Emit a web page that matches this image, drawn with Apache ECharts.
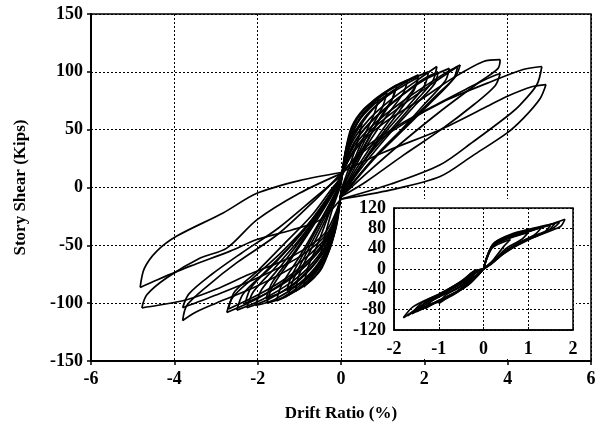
<!DOCTYPE html>
<html>
<head>
<meta charset="utf-8">
<script src="https://cdn.jsdelivr.net/npm/echarts@6/dist/echarts.min.js"></script>
<style>
html, body { margin: 0; padding: 0; background: #fff; }
#chart { width: 602px; height: 430px; }
</style>
</head>
<body>
<div id="chart"></div>
<script>
// 每个循环 4 段: [正向加载, 正向卸载, 负向加载, 负向卸载]  x: 层间位移角 %, y: kips
const c05 = [
    [[0, 2], [0.08, 25], [0.2, 42], [0.5, 55]],
    [[0.5, 55], [0.4, 40], [0.2, 18], [0, -2]],
    [[0, -2], [-0.08, -28], [-0.22, -46], [-0.5, -60]],
    [[-0.5, -60], [-0.4, -44], [-0.2, -18], [0, 2]]
];
const c09 = [
    [[0, 4], [0.1, 30], [0.25, 52], [0.55, 68], [0.9, 77]],
    [[0.9, 77], [0.8, 64], [0.55, 44], [0.25, 18], [0, -5]],
    [[0, -5], [-0.12, -32], [-0.26, -52], [-0.5, -72], [-0.9, -86]],
    [[-0.9, -86], [-0.8, -70], [-0.55, -48], [-0.3, -24], [0, 4]]
];
const c11 = [
    [[0, 5], [0.12, 32], [0.3, 54], [0.65, 71], [1.1, 82]],
    [[1.1, 82], [1.0, 70], [0.7, 50], [0.35, 24], [0.05, 0], [0, -5]],
    [[0, -5], [-0.12, -34], [-0.3, -56], [-0.65, -78], [-1.1, -90]],
    [[-1.1, -90], [-1.0, -75], [-0.7, -52], [-0.35, -26], [0, 5]]
];
const c13a = [
    [[0, 6], [0.15, 38], [0.4, 60], [0.8, 76], [1.34, 88.7]],
    [[1.34, 88.7], [1.25, 78], [0.9, 58], [0.5, 32], [0.15, 8], [0, -6]],
    [[0, -6], [-0.15, -38], [-0.4, -62], [-0.8, -82], [-1.26, -93]],
    [[-1.26, -93], [-1.15, -80], [-0.85, -58], [-0.45, -30], [-0.1, -4], [0, 6]]
];
const c13b = [
    [[0, 5], [0.15, 34], [0.4, 56], [0.8, 72], [1.3, 85]],
    [[1.3, 85], [1.2, 74], [0.85, 54], [0.45, 28], [0.1, 5], [0, -5]],
    [[0, -5], [-0.15, -35], [-0.4, -58], [-0.8, -78], [-1.3, -89]],
    [[-1.3, -89], [-1.18, -76], [-0.85, -54], [-0.45, -27], [0, 5]]
];
const c16 = [
    [[0, 6], [0.18, 38], [0.45, 60], [0.9, 78], [1.3, 88], [1.6, 93]],
    [[1.6, 93], [1.5, 82], [1.1, 62], [0.6, 35], [0.2, 8], [0, -6]],
    [[0, -6], [-0.18, -40], [-0.45, -64], [-0.9, -84], [-1.3, -94], [-1.55, -98]],
    [[-1.55, -98], [-1.42, -84], [-1.0, -60], [-0.55, -32], [-0.15, -6], [0, 6]]
];
const c18a = [
    [[0, 7], [0.2, 40], [0.5, 62], [1.0, 80], [1.5, 91], [1.86, 97.4]],
    [[1.86, 97.4], [1.78, 87], [1.4, 70], [0.9, 45], [0.4, 18], [0, -6]],
    [[0, -6], [-0.2, -42], [-0.5, -66], [-1.0, -85], [-1.4, -95], [-1.78, -100]],
    [[-1.78, -100], [-1.65, -86], [-1.2, -62], [-0.7, -35], [-0.3, -12], [0, 7]]
];
const c18b = [
    [[0, 5], [0.2, 36], [0.55, 58], [1.0, 76], [1.5, 88], [1.85, 95]],
    [[1.85, 95], [1.75, 84], [1.4, 66], [0.9, 42], [0.4, 15], [0, -5]],
    [[0, -5], [-0.2, -38], [-0.5, -60], [-1.0, -80], [-1.4, -90], [-1.8, -96]],
    [[-1.8, -96], [-1.65, -82], [-1.2, -60], [-0.7, -33], [-0.3, -10], [0, 5]]
];
const c21 = [
    [[0, 8], [0.22, 40], [0.6, 62], [1.1, 79], [1.6, 92], [2.1, 100]],
    [[2.1, 100], [2.0, 88], [1.6, 70], [1.0, 45], [0.5, 20], [0.1, -2], [0, -6]],
    [[0, -6], [-0.2, -42], [-0.55, -66], [-1.0, -83], [-1.6, -97], [-2.05, -102]],
    [[-2.05, -102], [-1.9, -88], [-1.4, -66], [-0.9, -42], [-0.4, -16], [0, 8]]
];
const c23a = [
    [[0, 8], [0.25, 38], [0.7, 60], [1.2, 76], [1.8, 92], [2.3, 104.6]],
    [[2.3, 104.6], [2.2, 92], [1.8, 75], [1.2, 50], [0.6, 25], [0.15, 0], [0, -6]],
    [[0, -6], [-0.2, -40], [-0.6, -64], [-1.1, -82], [-1.7, -96], [-2.26, -104]],
    [[-2.26, -104], [-2.1, -90], [-1.6, -70], [-1.0, -45], [-0.5, -20], [-0.1, 2], [0, 8]]
];
const c23b = [
    [[0, 6], [0.25, 34], [0.7, 56], [1.3, 75], [1.9, 92], [2.33, 100]],
    [[2.33, 100], [2.25, 90], [1.8, 72], [1.2, 48], [0.6, 22], [0.1, -2], [0, -6]],
    [[0, -6], [-0.2, -36], [-0.6, -58], [-1.1, -76], [-1.7, -90], [-2.3, -100]],
    [[-2.3, -100], [-2.15, -86], [-1.6, -66], [-1.0, -42], [-0.5, -18], [0, 6]]
];
const c26 = [
    [[0, 9], [0.3, 38], [0.8, 60], [1.4, 78], [2.0, 93], [2.6, 103]],
    [[2.6, 103], [2.5, 92], [2.0, 72], [1.4, 48], [0.7, 22], [0.2, 0], [0, -7]],
    [[0, -7], [-0.25, -42], [-0.7, -66], [-1.2, -82], [-1.9, -97], [-2.5, -106]],
    [[-2.5, -106], [-2.35, -92], [-1.85, -74], [-1.2, -50], [-0.6, -24], [-0.15, 0], [0, 9]]
];
const c28a = [
    [[0, 10], [0.3, 35], [0.8, 55], [1.5, 75], [2.2, 92], [2.6, 101], [2.86, 106]],
    [[2.86, 106], [2.75, 96], [2.3, 80], [1.6, 55], [0.9, 30], [0.3, 5], [0, -8]],
    [[0, -8], [-0.25, -40], [-0.7, -62], [-1.3, -80], [-2.0, -96], [-2.74, -108]],
    [[-2.74, -108], [-2.6, -95], [-2.1, -78], [-1.4, -55], [-0.7, -28], [-0.2, -2], [0, 10]]
];
const c28b = [
    [[0, 8], [0.3, 32], [0.8, 52], [1.5, 72], [2.2, 90], [2.8, 104.6]],
    [[2.8, 104.6], [2.7, 94], [2.2, 75], [1.5, 50], [0.8, 25], [0.2, 0], [0, -7]],
    [[0, -7], [-0.25, -38], [-0.7, -60], [-1.3, -78], [-2.0, -93], [-2.7, -105]],
    [[-2.7, -105], [-2.55, -90], [-2.0, -72], [-1.4, -50], [-0.7, -24], [-0.2, 0], [0, 8]]
];
const c38a = [
    [[0, 12], [0.4, 35], [1.0, 55], [2.0, 78], [2.7, 95], [3.42, 109], [3.82, 110.6]],
    [[3.82, 110.6], [3.77, 103], [3.34, 91.6], [2.38, 65.7], [1.5, 40], [0.7, 15], [0, -8]],
    [[0, -8], [-0.3, -40], [-1.0, -65], [-2.0, -85], [-3.0, -100], [-3.5, -108], [-3.8, -115]],
    [[-3.8, -115], [-3.7, -102], [-3.2, -85], [-2.5, -65], [-1.5, -40], [-0.6, -10], [0, 12]]
];
const c38b = [
    [[0, 10], [0.5, 32], [1.3, 52], [2.2, 70], [3.0, 85], [3.5, 94], [3.82, 98.5]],
    [[3.82, 98.5], [3.7, 88], [3.2, 72], [2.4, 50], [1.5, 28], [0.6, 5], [0, -8]],
    [[0, -8], [-0.3, -38], [-1.0, -60], [-2.0, -78], [-3.0, -93], [-3.8, -104]],
    [[-3.8, -104], [-3.65, -92], [-3.1, -75], [-2.4, -57], [-1.5, -35], [-0.6, -8], [0, 10]]
];
const c48a = [
    [[0, 12], [0.5, 30], [1.5, 55], [2.5, 75], [3.5, 90], [4.37, 102], [4.82, 104.6]],
    [[4.82, 104.6], [4.7, 88.8], [4.3, 71.5], [3.98, 61.4], [3.18, 39.8], [2.38, 19.6], [1.2, 3], [0, -10]],
    [[0, -10], [-0.4, -40], [-1.2, -60], [-2.2, -75], [-3.0, -88], [-3.7, -97], [-4.42, -102], [-4.78, -104]],
    [[-4.78, -104], [-4.66, -92.7], [-4.18, -78], [-3.38, -61], [-2.74, -52.4], [-2.02, -28], [-1.0, -5], [0, 12]]
];
const c48b = [
    [[0, 13], [1.0, 30], [2.38, 50], [3.42, 68.5], [3.98, 78.7], [4.6, 87.3], [4.92, 89]],
    [[4.92, 89], [4.78, 77], [4.38, 60], [3.98, 47], [3.18, 28], [2.38, 9.5], [1.2, -2], [0, -10]],
    [[0, -10], [-0.5, -28], [-1.2, -37], [-2.02, -45], [-2.66, -55], [-3.62, -68], [-4.42, -80], [-4.82, -86.4]],
    [[-4.82, -86.4], [-4.72, -70], [-4.42, -55], [-3.94, -42], [-2.83, -22], [-2.02, -5], [-1.0, 6], [0, 13]]
];
const mainLoops = [c05, c09, c11, c13a, c13b, c16, c18a, c18b, c21, c23a, c23b, c26, c28a, c28b, c38a, c38b, c48a, c48b];

// 小图 (inset)
const i06 = [
    [[0, 0], [0.07, 20], [0.2, 42], [0.6, 58]],
    [[0.6, 58], [0.45, 44], [0.2, 16], [0, 0]],
    [[0, 0], [-0.15, -14], [-0.35, -30], [-0.6, -45]],
    [[-0.6, -45], [-0.45, -34], [-0.2, -10], [0, 0]]
];
const i10 = [
    [[0, 0], [0.07, 22], [0.2, 44], [0.5, 58], [1.0, 72]],
    [[1.0, 72], [0.85, 58], [0.5, 40], [0.2, 14], [0, 0]],
    [[0, 0], [-0.12, -12], [-0.35, -32], [-0.7, -50], [-1.0, -68]],
    [[-1.0, -68], [-0.85, -52], [-0.5, -34], [-0.2, -8], [0, 0]]
];
const i13 = [
    [[0, 0], [0.08, 24], [0.2, 46], [0.5, 60], [0.9, 70], [1.3, 82]],
    [[1.3, 82], [1.15, 68], [0.8, 52], [0.45, 32], [0.15, 10], [0, 0]],
    [[0, 0], [-0.12, -12], [-0.3, -28], [-0.6, -46], [-1.0, -62], [-1.3, -78]],
    [[-1.3, -78], [-1.15, -62], [-0.8, -44], [-0.45, -26], [-0.15, -4], [0, 0]]
];
const i15 = [
    [[0, 0], [0.1, 26], [0.25, 50], [0.55, 64], [1.0, 75], [1.5, 86]],
    [[1.5, 86], [1.35, 72], [0.9, 54], [0.45, 30], [0.15, 8], [0, 0]],
    [[0, 0], [-0.15, -12], [-0.35, -30], [-0.7, -52], [-1.1, -68], [-1.5, -84]],
    [[-1.5, -84], [-1.3, -66], [-0.9, -46], [-0.5, -24], [-0.2, -4], [0, 0]]
];
const i16 = [
    [[0, 0], [0.08, 24], [0.22, 48], [0.5, 62], [1.0, 74], [1.6, 90]],
    [[1.6, 90], [1.45, 76], [1.0, 57], [0.5, 34], [0.2, 12], [0, 0]],
    [[0, 0], [-0.1, -10], [-0.3, -25], [-0.55, -42], [-1.0, -62], [-1.6, -88]],
    [[-1.6, -88], [-1.4, -68], [-1.0, -50], [-0.5, -26], [-0.2, -4], [0, 0]]
];
const i17 = [
    [[0, 0], [0.1, 28], [0.25, 52], [0.6, 68], [1.1, 80], [1.7, 92]],
    [[1.7, 92], [1.55, 80], [1.1, 64], [0.6, 42], [0.25, 18], [0, 0]],
    [[0, 0], [-0.12, -10], [-0.3, -20], [-0.6, -38], [-1.1, -60], [-1.7, -92]],
    [[-1.7, -92], [-1.5, -78], [-1.0, -52], [-0.5, -28], [-0.25, -8], [0, 0]]
];
const i18 = [
    [[0, 0], [0.08, 25], [0.22, 50], [0.52, 64], [1.04, 77], [1.5, 88], [1.82, 97.8]],
    [[1.82, 97.8], [1.71, 83], [1.04, 60], [0.52, 37], [0.22, 14], [0, 0]],
    [[0, 0], [-0.1, -8], [-0.3, -22], [-0.52, -41], [-0.97, -61], [-1.57, -84], [-1.79, -96]],
    [[-1.79, -96], [-1.57, -74], [-0.97, -48], [-0.45, -22], [-0.23, -5], [0, 0]]
];
const insetLoops = [i06, i10, i13, i15, i16, i17, i18];

const serif = 'Liberation Serif';
const labelStyle = { color: '#000', fontFamily: serif, fontWeight: 'bold', fontSize: 18 };
const dotted = { show: true, lineStyle: { color: '#000', width: 1, type: [2, 2] } };

function buildSeries(loops, idx, z) {
    const list = [];
    loops.forEach(loop => {
        loop.forEach(branch => {
            list.push({
                type: 'line',
                xAxisIndex: idx,
                yAxisIndex: idx,
                data: branch,
                smooth: 0.3,
                symbol: 'none',
                silent: true,
                z: z,
                lineStyle: { color: '#000', width: 1.7 }
            });
        });
    });
    return list;
}

const chart = echarts.init(document.getElementById('chart'));
chart.setOption({
    animation: false,
    backgroundColor: '#fff',
    grid: [
        { left: 91, top: 14, width: 500, height: 347, show: true, borderColor: '#000', borderWidth: 1.5 },
        { left: 394, top: 208, width: 179, height: 122, show: true, backgroundColor: '#fff', borderColor: '#000', borderWidth: 1.5, z: 3 }
    ],
    xAxis: [
        {
            type: 'value', gridIndex: 0, min: -6, max: 6, interval: 2,
            axisLine: { onZero: false, lineStyle: { color: '#000', width: 2 } },
            axisTick: { show: true, length: 4, lineStyle: { color: '#000', width: 1.5 } },
            axisLabel: { ...labelStyle, margin: 9 },
            splitLine: dotted,
            name: 'Drift Ratio (%)', nameLocation: 'middle', nameGap: 44,
            nameTextStyle: { color: '#000', fontFamily: serif, fontWeight: 'bold', fontSize: 17 }
        },
        {
            type: 'value', gridIndex: 1, min: -2, max: 2, interval: 1, z: 3,
            axisLine: { onZero: false, lineStyle: { color: '#000', width: 1.5 } },
            axisTick: { show: true, inside: true, length: 3, lineStyle: { color: '#000' } },
            axisLabel: { ...labelStyle, margin: 10 },
            splitLine: dotted
        }
    ],
    yAxis: [
        {
            type: 'value', gridIndex: 0, min: -150, max: 150, interval: 50,
            axisLine: { onZero: false, lineStyle: { color: '#000', width: 2 } },
            axisTick: { show: true, length: 4, lineStyle: { color: '#000', width: 1.5 } },
            axisLabel: { ...labelStyle, margin: 8 },
            splitLine: dotted,
            name: 'Story Shear (Kips)', nameLocation: 'middle', nameGap: 62,
            nameTextStyle: { color: '#000', fontFamily: serif, fontWeight: 'bold', fontSize: 17 }
        },
        {
            type: 'value', gridIndex: 1, min: -120, max: 120, interval: 40, z: 3,
            axisLine: { onZero: false, lineStyle: { color: '#000', width: 1.5 } },
            axisTick: { show: true, inside: true, length: 3, lineStyle: { color: '#000' } },
            axisLabel: { ...labelStyle, margin: 8 },
            splitLine: dotted
        }
    ],
    // 遮住主图网格线的白色区域
    graphic: [{
        type: 'rect', z: 1, silent: true,
        shape: { x: 350, y: 199, width: 226, height: 160 },
        style: { fill: '#fff' }
    }],
    series: [...buildSeries(mainLoops, 0, 2), ...buildSeries(insetLoops, 1, 4)]
});
</script>
</body>
</html>
